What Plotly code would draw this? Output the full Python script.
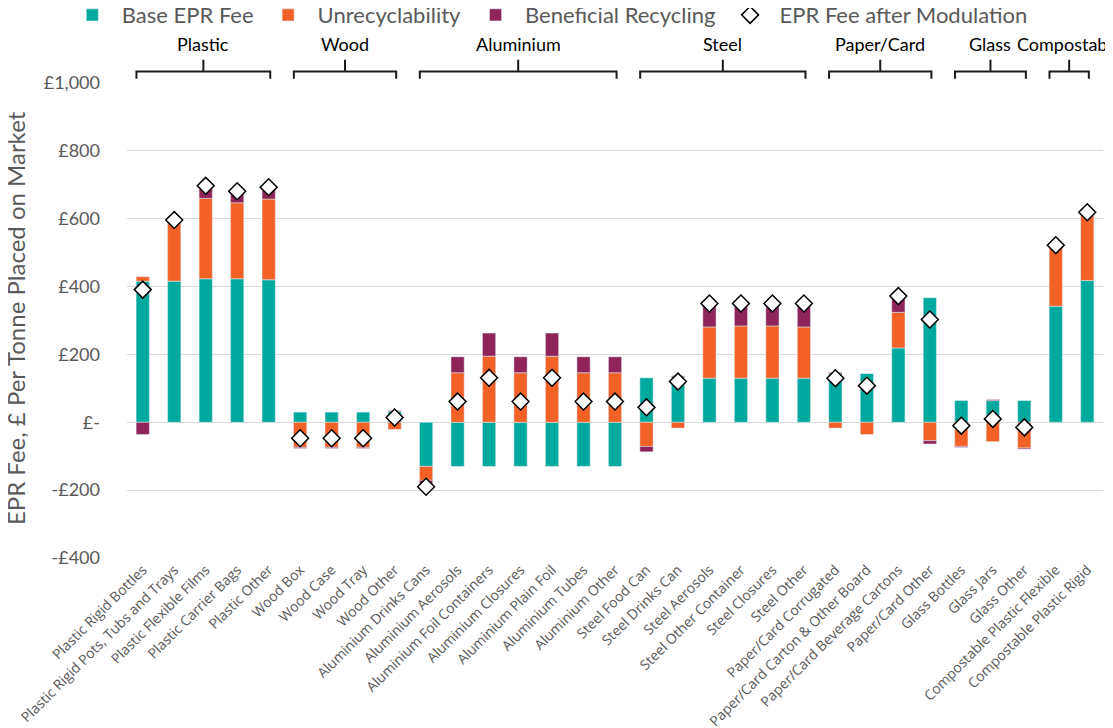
import plotly.graph_objects as go

categories = [
    "Plastic Rigid Bottles", "Plastic Rigid Pots, Tubs and Trays", "Plastic Flexible Films",
    "Plastic Carrier Bags", "Plastic Other", "Wood Box", "Wood Case", "Wood Tray", "Wood Other",
    "Aluminium Drinks Cans", "Aluminium Aerosols", "Aluminium Foil Containers", "Aluminium Closures",
    "Aluminium Plain Foil", "Aluminium Tubes", "Aluminium Other", "Steel Food Can", "Steel Drinks Can",
    "Steel Aerosols", "Steel Other Container", "Steel Closures", "Steel Other",
    "Paper/Card Corrugated", "Paper/Card Carton & Other Board", "Paper/Card Beverage Cartons",
    "Paper/Card Other", "Glass Bottles", "Glass Jars", "Glass Other",
    "Compostable Plastic Flexible", "Compostable Plastic Rigid",
]
base_fee = [416, 416, 423, 423, 420, 30, 30, 30, 32, -130, -130, -130, -130, -130, -130, -130,
            131, 134, 130, 130, 130, 130, 143, 144, 219, 367, 64, 64, 64, 342, 418]
unrecyclability = [13, 178, 237, 224, 238, -74, -74, -74, -21, -41, 146, 195, 146, 195, 146, 146,
                   -71, -17, 151, 154, 154, 151, -17, -36, 105, -54, -71, -57, -76, 180, 201]
beneficial = [-36, 0, 37, 34, 35, -3, -3, -3, 3, -17, 47, 68, 47, 68, 47, 47,
              -16, 3, 69, 66, 66, 69, 4, 0, 48, -10, -3, 3, -3, 0, 0]
after_modulation = [391, 596, 697, 681, 693, -47, -47, -47, 14, -190, 61, 131, 61, 131, 61, 61,
                    44, 120, 350, 350, 350, 350, 130, 108, 372, 303, -10, 10, -15, 522, 619]
group_names = ["Plastic", "Wood", "Aluminium", "Steel", "Paper/Card", "Glass", "Compostable"]
group_sizes = [5, 4, 7, 6, 4, 3, 2]
y_tick_values = [-400, -200, 0, 200, 400, 600, 800, 1000]
y_tick_labels = ["-£400", "-£200", "£-", "£200", "£400", "£600", "£800", "£1,000"]
y_title = "EPR Fee, £ Per Tonne Placed on Market"

TEAL = "#00A99D"
ORANGE = "#F26125"
PURPLE = "#8F2458"
GREY = "#595959"

fig = go.Figure()
fig.add_trace(go.Bar(x=categories, y=base_fee, name="Base EPR Fee", marker_color=TEAL))
fig.add_trace(go.Bar(x=categories, y=unrecyclability, name="Unrecyclability", marker_color=ORANGE))
fig.add_trace(go.Bar(x=categories, y=beneficial, name="Beneficial Recycling", marker_color=PURPLE))
fig.add_trace(go.Scatter(
    x=categories, y=after_modulation, name="EPR Fee after Modulation", mode="markers",
    marker=dict(symbol="diamond", size=13, color="white", line=dict(color="black", width=1.5)),
))

# group brackets and labels
shapes = []
annotations = []
start = 0
for name, size in zip(group_names, group_sizes):
    x0 = start - 0.2
    x1 = start + size - 1 + 0.05
    xm = (x0 + x1) / 2
    path = (f"M {x0},1.009 L {x0},1.024 L {x1},1.024 L {x1},1.009 "
            f"M {xm},1.024 L {xm},1.049")
    shapes.append(dict(type="path", xref="x", yref="paper", path=path,
                       line=dict(color="#1a1a1a", width=2)))
    annotations.append(dict(x=xm, y=1.083, xref="x", yref="paper", text=name, showarrow=False,
                            font=dict(family="Lato", size=18, color="black"),
                            xanchor="center", yanchor="middle"))
    start += size

# y-axis title as a rotated annotation (stable placement)
annotations.append(dict(x=-0.1148, y=0.505, xref="paper", yref="paper", text=y_title,
                        textangle=-90, showarrow=False, xanchor="center", yanchor="middle",
                        font=dict(family="Lato", size=24, color=GREY)))

fig.update_layout(
    width=1113, height=728,
    margin=dict(l=119, r=18, t=75, b=178, autoexpand=False),
    barmode="relative", bargap=0.58,
    plot_bgcolor="white", paper_bgcolor="white",
    font=dict(family="Lato", color=GREY),
    shapes=shapes, annotations=annotations,
    legend=dict(orientation="h", x=0.485, xref="container", xanchor="center",
                y=1.143, yanchor="middle", font=dict(family="Lato", size=22, color=GREY),
                itemwidth=49, traceorder="normal", bgcolor="rgba(0,0,0,0)"),
    xaxis=dict(tickangle=-45, tickfont=dict(family="Open Sans", size=14, color=GREY),
               showgrid=False, showline=False, ticks="", range=[-0.5, len(categories) - 0.5],
               automargin=False),
    yaxis=dict(range=[-400, 1000], tickvals=y_tick_values, ticktext=y_tick_labels,
               tickfont=dict(family="Lato", size=18, color=GREY), showgrid=True,
               gridcolor="#D9D9D9", gridwidth=1, zeroline=False, ticklabelstandoff=26,
               automargin=False),
)

fig.write_html("out.html")
